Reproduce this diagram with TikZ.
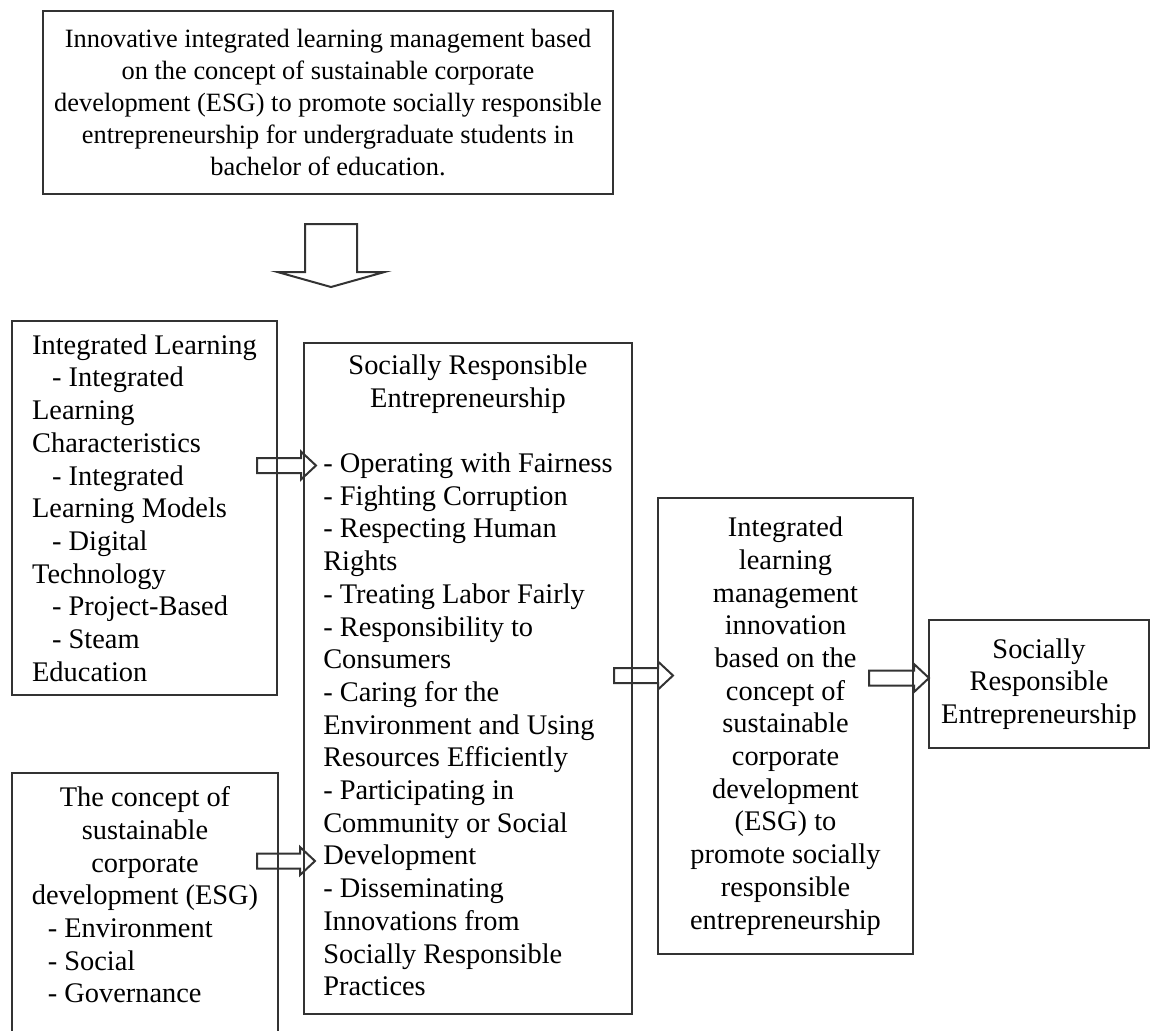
\documentclass[tikz,border=0pt]{standalone}
\usepackage{fontspec}
\setmainfont{Liberation Serif}
\usetikzlibrary{calc}

\tikzset{
  box/.style={draw=black!80, line width=1pt, rectangle, anchor=north west,
    inner sep=0pt, font=\fontsize{14.2pt}{16.35pt}\selectfont},
  blockarrow/.style={draw=black!80, line width=1pt, line join=miter},
}
\newcommand{\ctr}[1]{\multicolumn{1}{@{}c@{}}{#1}}
\newcommand{\harrow}[2]{%
  \draw[blockarrow] ($(#1)+(0,-7.5)$) -- ($(#2)+(-15,-7.5)$) -- ($(#2)+(-15,-14)$)
    -- (#2) -- ($(#2)+(-15,14)$) -- ($(#2)+(-15,7.5)$) -- ($(#1)+(0,7.5)$) -- cycle;}

\begin{document}
\begin{tikzpicture}[x=0.5pt, y=-0.5pt]

\useasboundingbox (0,0) rectangle (1161,1030);

\node[box, align=center, font=\fontsize{13.2pt}{16pt}\selectfont, minimum width=285pt, minimum height=91.5pt] (goal) at (42,10)
  {Innovative integrated learning management based\\
   on the concept of sustainable corporate\\
   development (ESG) to promote socially responsible\\
   entrepreneurship for undergraduate students in\\
   bachelor of education.};

\coordinate (dtop) at (331,224);
\coordinate (dtip) at (331,287);
\draw[blockarrow] ($(dtop)+(-26,0)$) -- ($(dtop)+(26,0)$) -- ($(dtip)+(26,-15)$) -- ($(dtip)+(53.5,-15)$)
  -- (dtip) -- ($(dtip)+(-53.5,-15)$) -- ($(dtip)+(-26,-15)$) -- cycle;

\node[box, align=left, minimum width=132.5pt, minimum height=187pt] (il) at (11,320)
  {Integrated Learning\\
   \hspace*{10pt}- Integrated\\
   Learning\\
   Characteristics\\
   \hspace*{10pt}- Integrated\\
   Learning Models\\
   \hspace*{10pt}- Digital\\
   Technology\\
   \hspace*{10pt}- Project-Based\\
   \hspace*{10pt}- Steam\\
   Education};

\node[box, minimum width=133pt, minimum height=158pt] (esg) at (11,772)
  {\begin{tabular}{@{}l@{}}
   \ctr{The concept of}\\
   \ctr{sustainable}\\
   \ctr{corporate}\\
   \ctr{development (ESG)}\\
   \hspace*{8pt}- Environment\\
   \hspace*{8pt}- Social\\
   \hspace*{8pt}- Governance\\
   \\
   \\
   \end{tabular}};

\node[box, minimum width=164pt, minimum height=335.5pt] (sre) at (303,342)
  {\begin{tabular}{@{}l@{}}
   \ctr{Socially Responsible}\\
   \ctr{Entrepreneurship}\\[16.35pt]
   - Operating with Fairness\\
   - Fighting Corruption\\
   - Respecting Human\\
   Rights\\
   - Treating Labor Fairly\\
   - Responsibility to\\
   Consumers\\
   - Caring for the\\
   Environment and Using\\
   Resources Efficiently\\
   - Participating in\\
   Community or Social\\
   Development\\
   - Disseminating\\
   Innovations from\\
   Socially Responsible\\
   Practices
   \end{tabular}};

\node[box, align=center, minimum width=127.5pt, minimum height=228pt] (integ) at (657,497)
  {Integrated\\
   learning\\
   management\\
   innovation\\
   based on the\\
   concept of\\
   sustainable\\
   corporate\\
   development\\
   (ESG) to\\
   promote socially\\
   responsible\\
   entrepreneurship};

\node[box, align=center, minimum width=110pt, minimum height=64pt] (result) at (928,619)
  {Socially\\
   Responsible\\
   Entrepreneurship};

\coordinate (a1s) at (257,465.5);
\coordinate (a1e) at (316,465.5);
\coordinate (a2s) at (257,861);
\coordinate (a2e) at (315,861);
\coordinate (a3s) at (614,675.5);
\coordinate (a3e) at (673,675.5);
\coordinate (a4s) at (869,678);
\coordinate (a4e) at (929,678);

\harrow{a1s}{a1e}
\harrow{a2s}{a2e}
\harrow{a3s}{a3e}
\harrow{a4s}{a4e}

\end{tikzpicture}
\end{document}
